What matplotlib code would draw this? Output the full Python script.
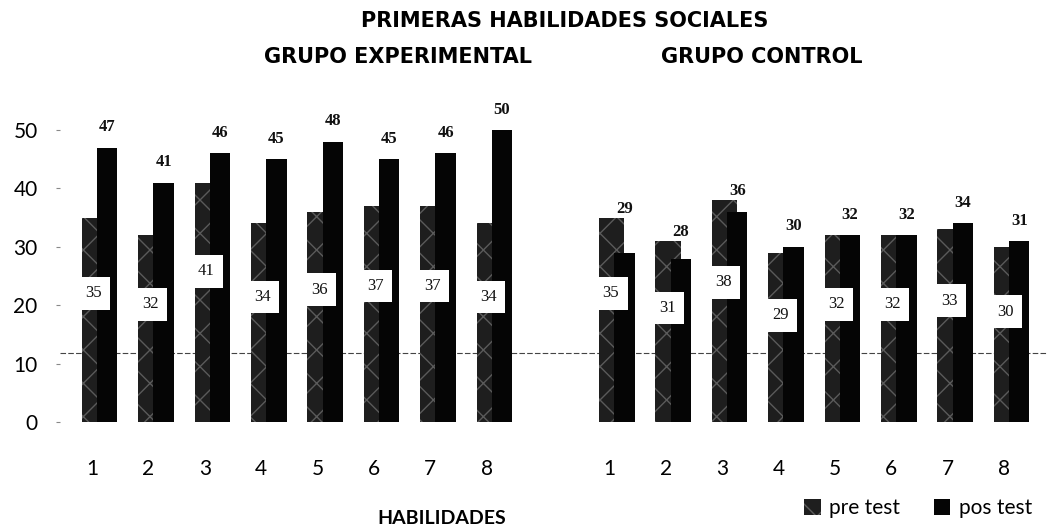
import matplotlib
matplotlib.use("Agg")
import matplotlib.pyplot as plt
from matplotlib.patches import Patch
import numpy as np

# data
categories = ["1", "2", "3", "4", "5", "6", "7", "8"]
exp_pre = [35, 32, 41, 34, 36, 37, 37, 34]
exp_pos = [47, 41, 46, 45, 48, 45, 46, 50]
ctl_pre = [35, 31, 38, 29, 32, 32, 33, 30]
ctl_pos = [29, 28, 36, 30, 32, 32, 34, 31]
yticks = [0, 10, 20, 30, 40, 50]

narrow = ["Liberation Sans Narrow", "DejaVu Sans"]
serif = ["Liberation Serif", "DejaVu Serif"]
sans = ["Lato", "DejaVu Sans"]

pre_face = "#1e1e1e"
pre_hatch = "#5a5a5a"
pos_face = "#050505"

fig = plt.figure(figsize=(10.5, 5.29), dpi=100)
ax = fig.add_axes([0.0571, 0.2023, 0.941, 0.618])

x_exp = np.arange(len(categories))
x_ctl = np.arange(len(categories)) + 9.17

ax.axhline(11.8, color="#444444", lw=0.8, ls=(0, (5, 2)), zorder=0.5)
ax.axhline(0, color="#aaaaaa", lw=0.6, ls=(0, (3, 2)), zorder=0.5)

for xs, pre, pos in [(x_exp, exp_pre, exp_pos), (x_ctl, ctl_pre, ctl_pos)]:
    ax.bar(xs - 0.18, pre, width=0.45, align="edge", color=pre_face,
           hatch="x", edgecolor=pre_hatch, linewidth=0, zorder=2)
    ax.bar(xs + 0.09, pos, width=0.36, align="edge", color=pos_face,
           edgecolor=pos_face, linewidth=0, zorder=3)
    # pre test value in a white box, pos test value above its bar
    for x, v in zip(xs, pre):
        ax.text(x + 0.03, v * 0.63, str(v), ha="center", va="center",
                fontsize=12, family=serif, color="#111111", zorder=5,
                bbox=dict(boxstyle="square,pad=0.5", fc="white", ec="none"))
    for x, v, p in zip(xs, pos, pre):
        ax.annotate(str(v), (x + 0.27, max(v, p - 2)), xytext=(0, 9),
                    textcoords="offset points", ha="center", va="bottom",
                    fontsize=12, family=serif, fontweight="bold",
                    color="#111111", zorder=5)

ax.set_xlim(-0.567, 16.95)
ax.set_ylim(0, 56)
ax.set_xticks(list(x_exp) + list(x_ctl))
ax.set_xticklabels(categories + categories, family=sans, fontsize=15)
ax.set_yticks(yticks)
ax.set_yticklabels([str(t) for t in yticks], family=sans, fontsize=15)
ax.tick_params(axis="x", length=0, pad=27)
ax.tick_params(axis="y", length=3, color="#888888", pad=13)
for s in ax.spines.values():
    s.set_visible(False)

fig.text(565 / 1050, 1 - 21 / 529, "PRIMERAS HABILIDADES SOCIALES", ha="center", va="center",
         fontsize=15, fontweight="bold", family=narrow)
fig.text(398 / 1050, 1 - 57 / 529, "GRUPO EXPERIMENTAL", ha="center", va="center",
         fontsize=15, fontweight="bold", family=narrow)
fig.text(762 / 1050, 1 - 57 / 529, "GRUPO CONTROL", ha="center", va="center",
         fontsize=15, fontweight="bold", family=narrow)
fig.text(442 / 1050, 1 - 519 / 529, "HABILIDADES", ha="center", va="center",
         fontsize=14, fontweight="bold", family=sans)

handles = [Patch(facecolor=pre_face, edgecolor=pre_hatch, hatch="x", linewidth=0),
           Patch(facecolor=pos_face, edgecolor=pos_face, linewidth=0)]
fig.legend(handles, ["pre test", "pos test"], loc="center",
           bbox_to_anchor=(918 / 1050, 1 - 508 / 529), ncol=2, frameon=False,
           handlelength=0.8, handleheight=0.8, handletextpad=0.4, columnspacing=1.6,
           prop=dict(family=sans, size=15))

fig.savefig("out.png", dpi=100)
